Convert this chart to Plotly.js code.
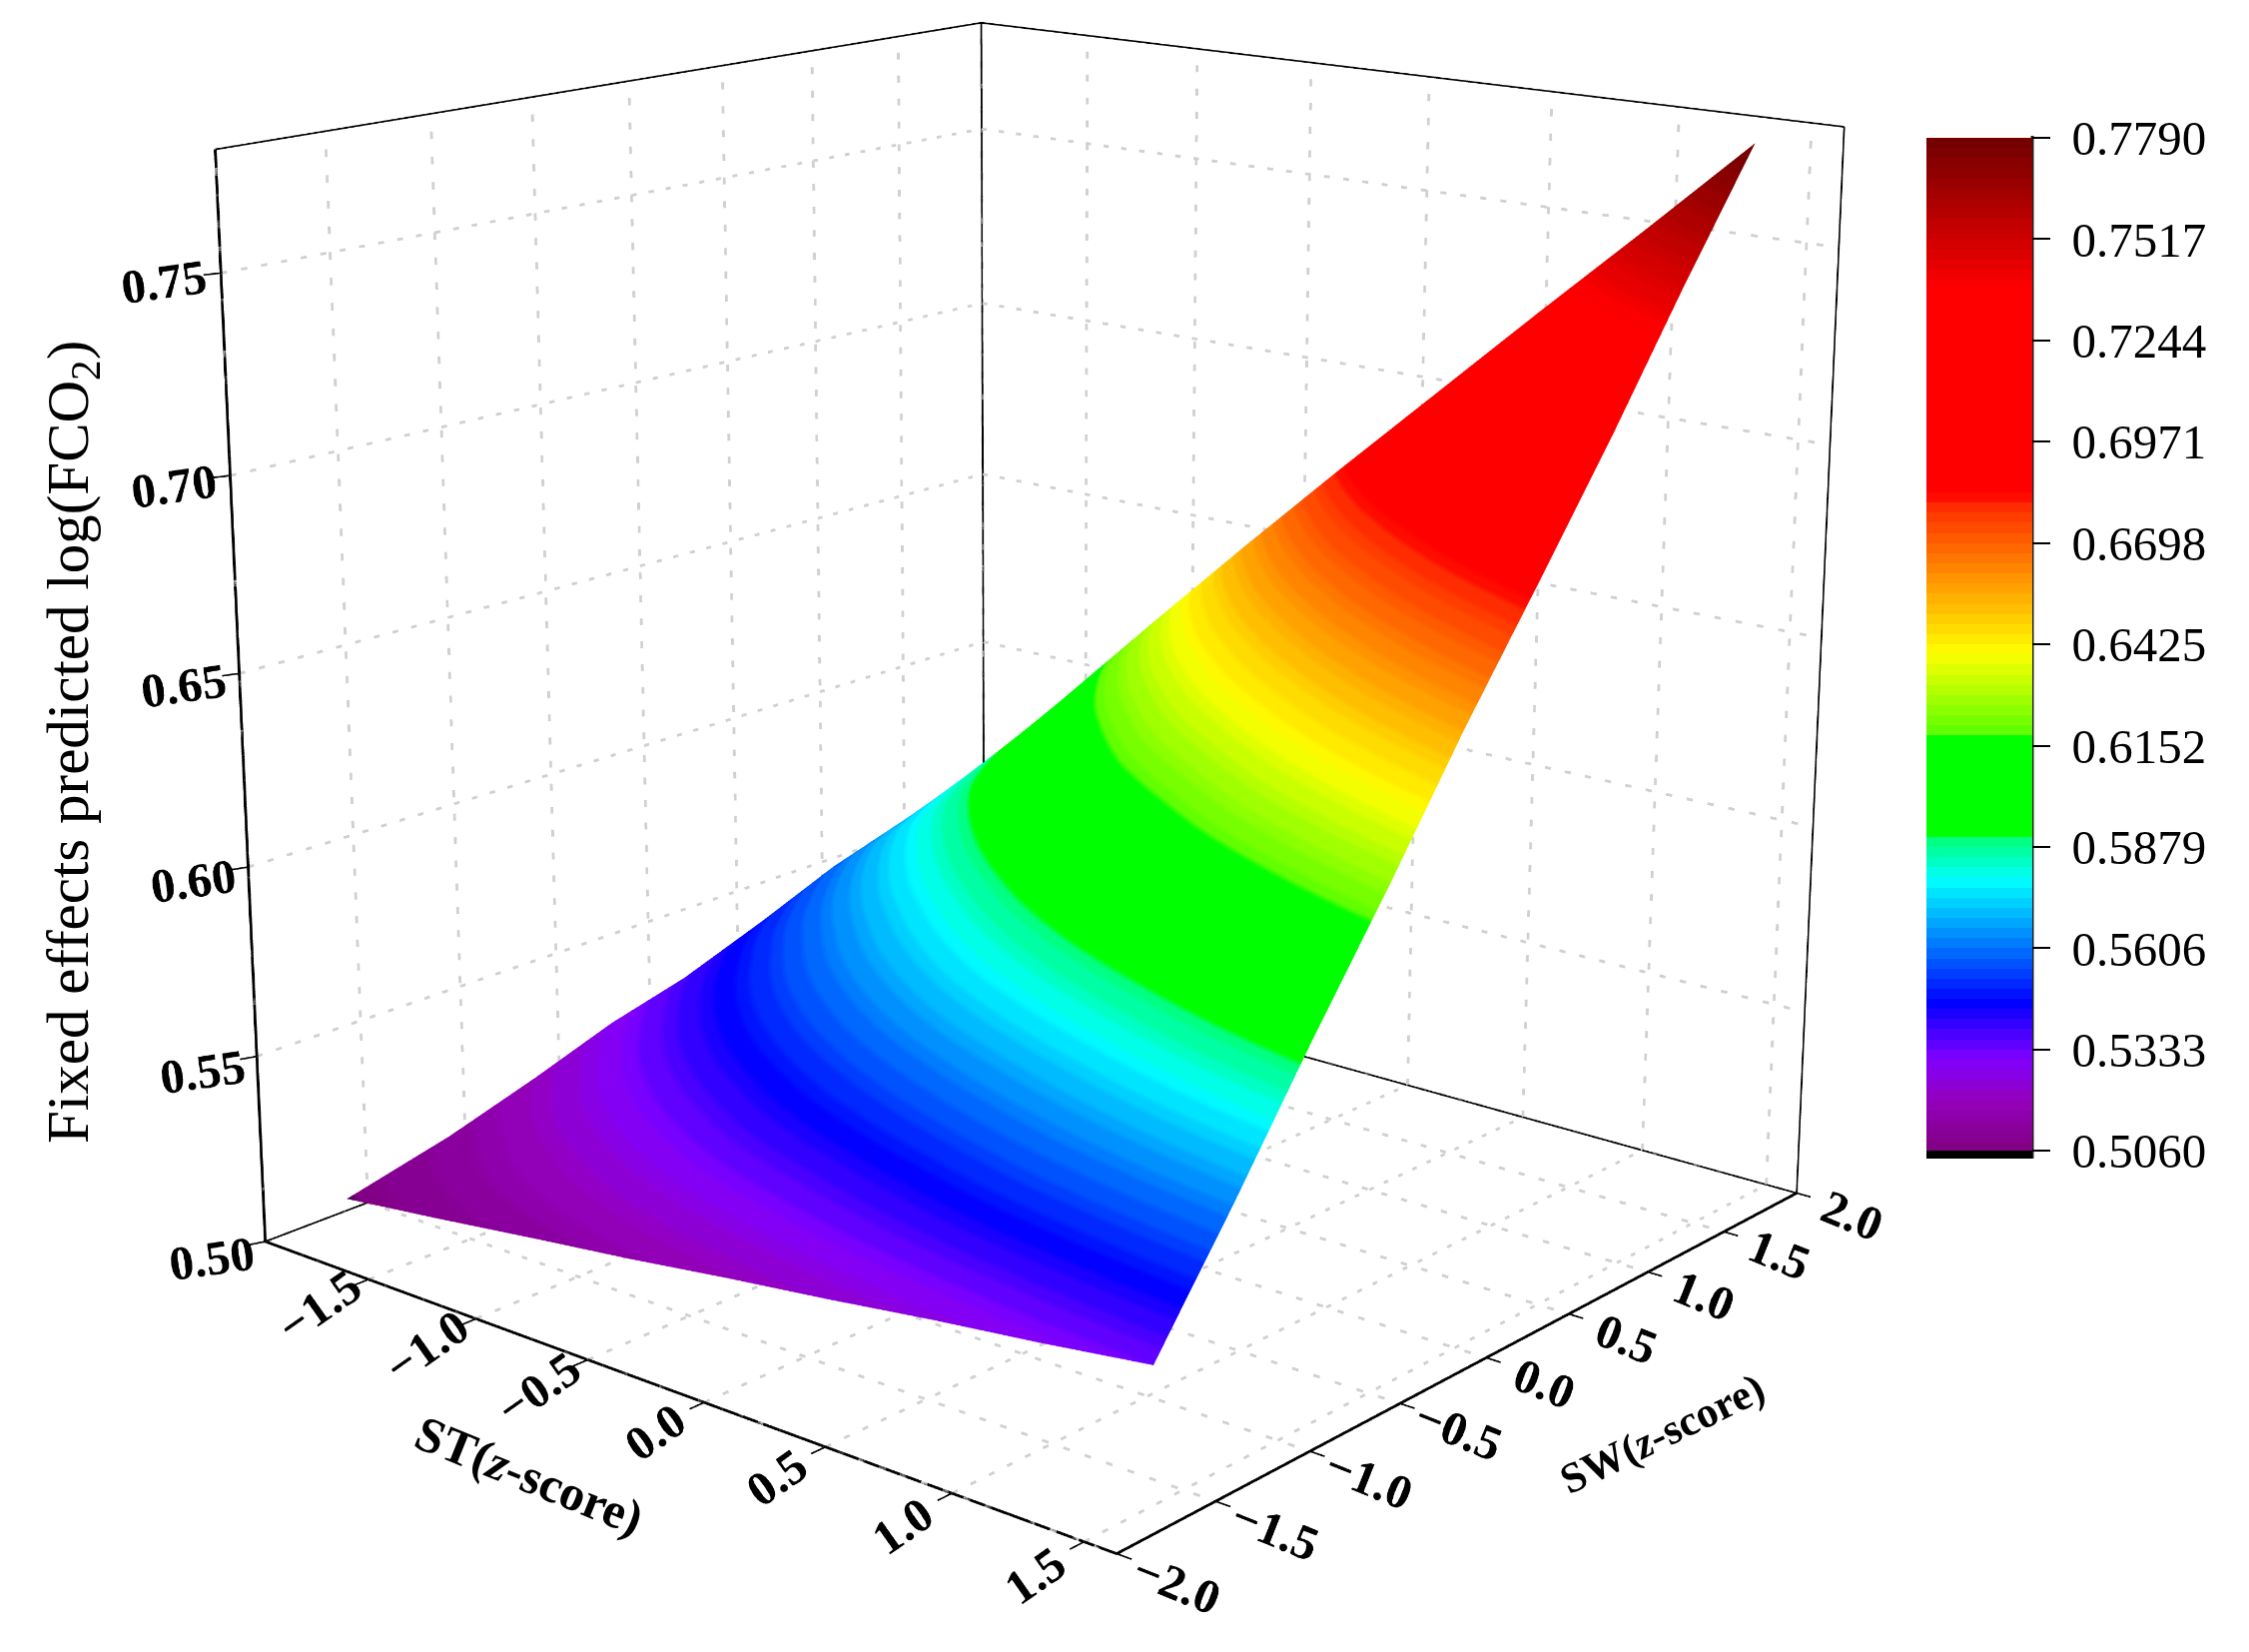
<!DOCTYPE html>
<html>
<head>
<meta charset="utf-8">
<script src="https://cdn.plot.ly/plotly-3.0.1.min.js"></script>
<style>
  html, body { margin: 0; padding: 0; width: 2252px; height: 1654px; overflow: hidden; background: #fff; }
  #chart { position: absolute; left: -208px; top: -1353px; }
</style>
</head>
<body>
<div id="chart"></div>
<script>
// values, one row per SW step
const stValues = [
  [-1.93, -1.49, -1.04, -0.62, -0.20, 0.22, 0.64, 1.06, 1.48],
  [-1.93, -1.48, -1.03, -0.61, -0.18, 0.23, 0.66, 1.07, 1.49],
  [-1.93, -1.44, -1.02, -0.59, -0.17, 0.25, 0.67, 1.08, 1.49],
  [-1.91, -1.42, -1.00, -0.57, -0.15, 0.27, 0.68, 1.09, 1.50],
  [-1.81, -1.38, -0.96, -0.54, -0.13, 0.29, 0.69, 1.10, 1.50],
  [-1.76, -1.34, -0.93, -0.51, -0.11, 0.31, 0.71, 1.11, 1.51],
  [-1.70, -1.29, -0.88, -0.47, -0.07, 0.33, 0.73, 1.12, 1.52],
  [-1.62, -1.23, -0.83, -0.43, -0.04, 0.35, 0.75, 1.13, 1.52],
  [-1.49, -1.12, -0.77, -0.38, 0.00, 0.38, 0.76, 1.15, 1.53]
];
const swValues = [
  [-1.67, -1.67, -1.66, -1.66, -1.65, -1.65, -1.64, -1.64, -1.63],
  [-1.15, -1.20, -1.24, -1.25, -1.24, -1.24, -1.25, -1.24, -1.23],
  [-0.70, -0.82, -0.83, -0.84, -0.84, -0.84, -0.84, -0.84, -0.83],
  [-0.31, -0.42, -0.43, -0.44, -0.45, -0.45, -0.44, -0.44, -0.43],
  [-0.02, -0.03, -0.04, -0.05, -0.05, -0.05, -0.05, -0.04, -0.03],
  [0.36, 0.34, 0.34, 0.33, 0.33, 0.34, 0.35, 0.36, 0.38],
  [0.71, 0.70, 0.71, 0.71, 0.72, 0.73, 0.74, 0.76, 0.78],
  [1.04, 1.06, 1.07, 1.09, 1.10, 1.11, 1.13, 1.15, 1.18],
  [1.31, 1.35, 1.42, 1.44, 1.47, 1.50, 1.53, 1.55, 1.58]
];
const fco2 = [
  [0.5060, 0.5094, 0.5128, 0.5161, 0.5195, 0.5229, 0.5263, 0.5296, 0.5330],
  [0.5126, 0.5190, 0.5254, 0.5318, 0.5382, 0.5446, 0.5510, 0.5574, 0.5638],
  [0.5200, 0.5293, 0.5386, 0.5479, 0.5573, 0.5666, 0.5759, 0.5852, 0.5945],
  [0.5283, 0.5404, 0.5525, 0.5647, 0.5768, 0.5889, 0.6010, 0.6131, 0.6253],
  [0.5375, 0.5523, 0.5671, 0.5819, 0.5968, 0.6116, 0.6264, 0.6412, 0.6560],
  [0.5476, 0.5650, 0.5824, 0.5998, 0.6172, 0.6345, 0.6519, 0.6693, 0.6868],
  [0.5585, 0.5784, 0.5983, 0.6181, 0.6380, 0.6579, 0.6778, 0.6976, 0.7175],
  [0.5680, 0.5905, 0.6135, 0.6370, 0.6593, 0.6815, 0.7037, 0.7260, 0.7482],
  [0.5800, 0.6050, 0.6300, 0.6560, 0.6810, 0.7055, 0.7300, 0.7545, 0.7790]
];

const stTicks = [-1.5, -1.0, -0.5, 0.0, 0.5, 1.0, 1.5];
const stTickText = ["\u22121.5", "\u22121.0", "\u22120.5", "0.0", "0.5", "1.0", "1.5"];
const swTicks = [-2.0, -1.5, -1.0, -0.5, 0.0, 0.5, 1.0, 1.5, 2.0];
const swTickText = ["\u22122.0", "\u22121.5", "\u22121.0", "\u22120.5", "0.0", "0.5", "1.0", "1.5", "2.0"];
const zTicks = [0.50, 0.55, 0.60, 0.65, 0.70, 0.75];
const zTickText = ["0.50", "0.55", "0.60", "0.65", "0.70", "0.75"];
const barTicks = [0.5060, 0.5333, 0.5606, 0.5879, 0.6152, 0.6425, 0.6698, 0.6971, 0.7244, 0.7517, 0.7790];
const barTickText = ["0.5060", "0.5333", "0.5606", "0.5879", "0.6152", "0.6425", "0.6698", "0.6971", "0.7244", "0.7517", "0.7790"];

// the visible frame
const stRange = [-2.0, 1.62];
const swRange = [-2.0, 2.0];
const zRange = [0.50, 0.78];
// scene ranges are wider than the frame: plotly has no tick label padding in 3D,
// so the labels are pushed out this way and the frame and ticks are drawn as lines
const sceneSt = [-2.02, 1.76];
const sceneSw = [-2.15, 2.02];
const sceneZ = [0.498, 0.782];

// colour ramp of the legend bar, value -> colour
const rampValues = [0.506, 0.52, 0.531, 0.5458, 0.579, 0.5895, 0.5905, 0.618, 0.619, 0.640, 0.679, 0.683, 0.738, 0.779];
const rampColors = [[128,0,128], [148,0,192], [128,0,255], [0,0,255], [0,255,255], [0,255,128], [0,255,0], [0,255,0],
                    [96,255,0], [255,255,0], [255,48,0], [255,0,0], [255,0,0], [112,0,0]];
const cMin = 0.5039, cMax = 0.779, levels = 100;

function rampAt(v) {
  let i = 0;
  while (i < rampValues.length - 2 && v > rampValues[i + 1]) i++;
  const t = Math.min(1, Math.max(0, (v - rampValues[i]) / (rampValues[i + 1] - rampValues[i])));
  const c = rampColors[i].map((a, k) => Math.round(a + (rampColors[i + 1][k] - a) * t));
  return "rgb(" + c.join(",") + ")";
}

// stepped scale, the bands are visible on the surface
const blackEnd = (0.506 - cMin) / (cMax - cMin);
const colorscale = [[0, "rgb(0,0,0)"], [blackEnd, "rgb(0,0,0)"]];
for (let i = 0; i < levels; i++) {
  const a = blackEnd + (1 - blackEnd) * i / levels;
  const b = blackEnd + (1 - blackEnd) * (i + 1) / levels;
  const col = rampAt(0.506 + (cMax - 0.506) * (i + 0.5) / levels);
  colorscale.push([a, col], [b, col]);
}

function segments() {
  const s = { x: [], y: [], z: [] };
  s.add = function (x0, y0, z0, x1, y1, z1) {
    s.x.push(x0, x1, NaN); s.y.push(y0, y1, NaN); s.z.push(z0, z1, NaN);
  };
  // the gl dash pattern is too long at this canvas size, so cut the dots by hand
  s.dotted = function (x0, y0, z0, x1, y1, z1, n) {
    for (let i = 0; i < n; i++) {
      const a = i / n, b = (i + 0.3) / n;
      s.add(x0 + (x1 - x0) * a, y0 + (y1 - y0) * a, z0 + (z1 - z0) * a,
            x0 + (x1 - x0) * b, y0 + (y1 - y0) * b, z0 + (z1 - z0) * b);
    }
  };
  return s;
}

const [st0, st1] = stRange, [sw0, sw1] = swRange, [z0, z1] = zRange;

// dotted grid on the floor and the two back walls
const grid = segments();
const dots = 44;
stTicks.forEach(t => {
  grid.dotted(t, sw0, z0, t, sw1, z0, dots);
  grid.dotted(t, sw1, z0, t, sw1, z1, dots);
});
swTicks.forEach(t => {
  grid.dotted(st0, t, z0, st1, t, z0, dots);
  grid.dotted(st0, t, z0, st0, t, z1, dots);
});
zTicks.forEach(t => {
  grid.dotted(st0, sw0, t, st0, sw1, t, dots);
  grid.dotted(st0, sw1, t, st1, sw1, t, dots);
});

// thin box edges
const box = segments();
box.add(st0, sw0, z0, st0, sw1, z0);
box.add(st0, sw1, z0, st1, sw1, z0);
box.add(st0, sw1, z0, st0, sw1, z1);
box.add(st1, sw1, z0, st1, sw1, z1);
box.add(st0, sw0, z1, st0, sw1, z1);
box.add(st0, sw1, z1, st1, sw1, z1);

// heavier edges where the three axes run, with their tick marks
const frame = segments();
frame.add(st0, sw0, z0, st0, sw0, z1);
frame.add(st0, sw0, z0, st1, sw0, z0);
frame.add(st1, sw0, z0, st1, sw1, z0);
const marks = segments();
stTicks.forEach(t => marks.add(t, sw0, z0, t, sw0 - 0.07, z0));
swTicks.forEach(t => marks.add(st1, t, z0, st1 + 0.055, t, z0));
zTicks.forEach(t => marks.add(st0, sw0, t, st0 - 0.02, sw0 - 0.06, t));

const serif = "Liberation Serif";
const plotW = 2500, plotH = 4096, plotLeft = -208, plotTop = -1353;
const paperX = px => (px - plotLeft) / plotW;
const paperY = py => 1 - (py - plotTop) / plotH;

function axis(range, ticks, labels, angle) {
  return {
    range: range,
    tickmode: "array",
    tickvals: ticks,
    ticktext: labels,
    tickangle: angle,
    tickfont: { family: serif, size: 23, color: "#000", weight: "bold" },
    title: { text: "" },
    ticks: "",
    showgrid: false, zeroline: false, showbackground: false, showspikes: false,
    showline: false
  };
}

const lines = (s, color, width) => ({
  type: "scatter3d", mode: "lines", x: s.x, y: s.y, z: s.z, hoverinfo: "skip", showlegend: false,
  line: { color: color, width: width }
});

const traces = [
  {
    type: "surface", x: stValues, y: swValues, z: fco2,
    colorscale: colorscale, cmin: cMin, cmax: cMax,
    lighting: { ambient: 1, diffuse: 0, specular: 0, fresnel: 0, roughness: 1 },
    hoverinfo: "skip",
    colorbar: {
      tickmode: "array", tickvals: barTicks, ticktext: barTickText.map(t => "\u00a0" + t),
      tickfont: { family: serif, size: 49, color: "#000" },
      ticks: "outside", ticklen: 18, tickwidth: 2, tickcolor: "#000",
      thickness: 106, thicknessmode: "pixels", len: 1022, lenmode: "pixels",
      x: paperX(1929), xanchor: "left",
      y: paperY(138), yanchor: "top", ypad: 0, xpad: 0,
      outlinewidth: 0
    }
  },
  lines(grid, "#d0d0d0", 5),
  lines(box, "#000", 3),
  lines(frame, "#000", 5),
  lines(marks, "#000", 3)
];

const title = (text, px, py, angle, size) => ({
  text: text, xref: "paper", yref: "paper", x: paperX(px), y: paperY(py),
  xanchor: "center", yanchor: "middle", showarrow: false, textangle: angle,
  font: { family: serif, size: size, color: "#000" }
});

const layout = {
  width: plotW, height: plotH,
  margin: { l: 0, r: 0, t: 0, b: 0 },
  paper_bgcolor: "#fff",
  showlegend: false,
  scene: {
    domain: { x: [0, 1], y: [0, 1] },
    aspectmode: "manual", aspectratio: { x: 1.0442, y: 1.0425, z: 1.0143 },
    camera: {
      eye: { x: 2.7194, y: -3.2248, z: 1.2 },
      center: { x: -0.0166, y: 0.01625, z: 0 },
      up: { x: 0, y: 0, z: 1 }
    },
    xaxis: axis(sceneSt, stTicks, stTickText, -35),
    yaxis: axis(sceneSw, swTicks, swTickText, 22),
    zaxis: axis(sceneZ, zTicks, zTickText, -8)
  },
  shapes: [
    { type: "line", xref: "paper", yref: "paper", x0: paperX(2035), x1: paperX(2035), y0: paperY(136), y1: paperY(1160),
      line: { color: "#222", width: 3 } }
  ],
  annotations: [
    title("Fixed effects predicted log(FCO<sub>2</sub>)", 72, 743, -90, 59),
    title("<b>ST(<i>z</i>-score)</b>", 530, 1477, 22, 50),
    title("<b>SW(<i>z</i>-score)</b>", 1664, 1436, -26, 43)
  ]
};

Plotly.newPlot("chart", traces, layout, { displayModeBar: false });
</script>
</body>
</html>
